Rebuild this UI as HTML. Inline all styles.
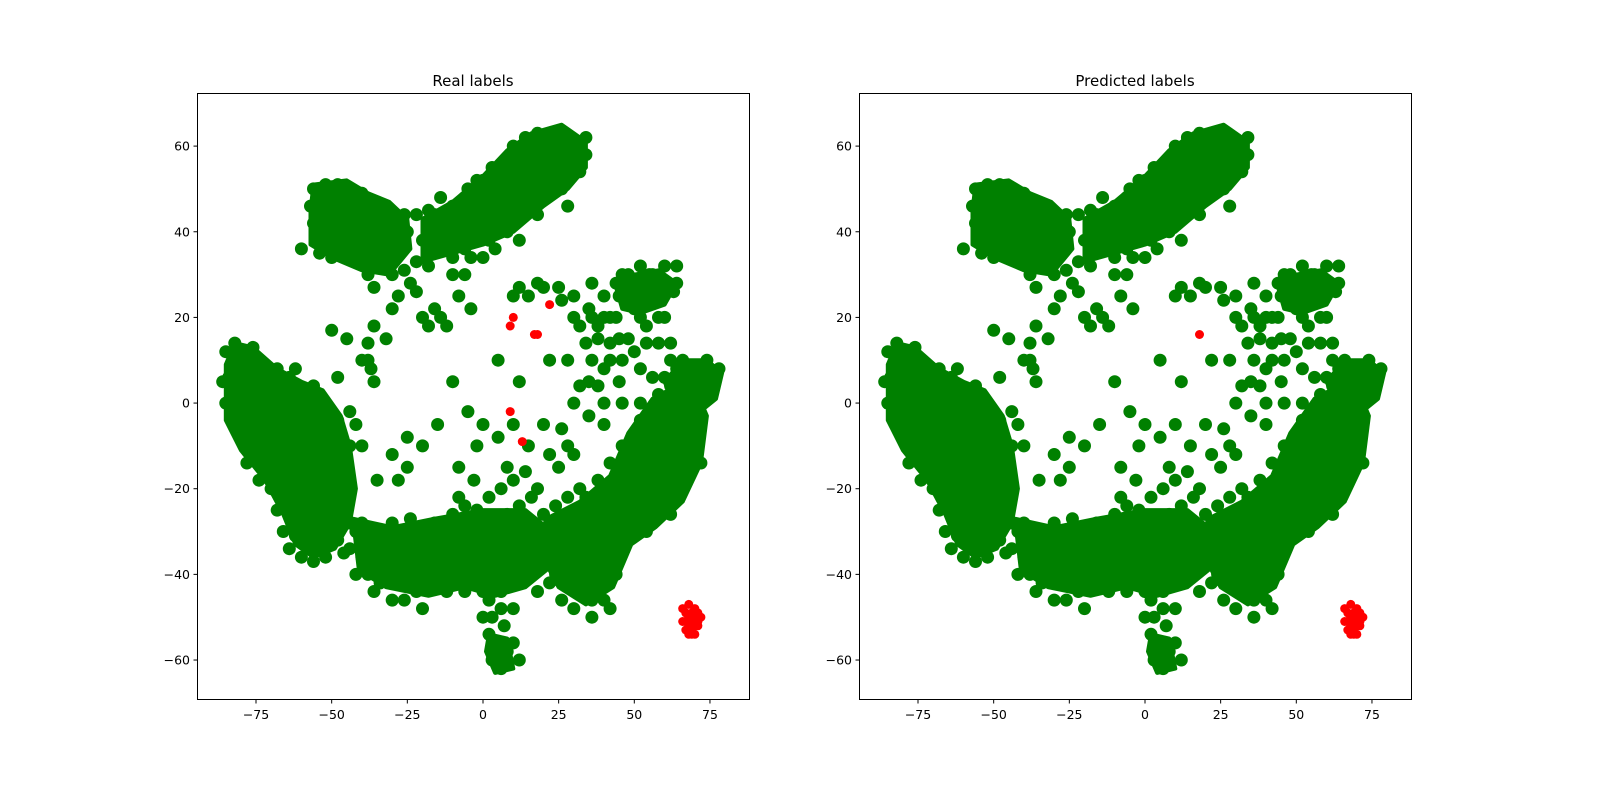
<!DOCTYPE html>
<html><head><meta charset="utf-8"><title>Real vs Predicted labels</title>
<style>
html,body{margin:0;padding:0;background:#fff;}
svg{display:block;font-family:"DejaVu Sans","Liberation Sans",sans-serif;}
</style></head>
<body>
<svg id="fig" width="1600" height="802" viewBox="0 0 1600 802"></svg>
<script>
// ---- data (t-SNE coordinates) ----
// dense cores of the green class (outlines in data coordinates)
const denseRegions = [
[[-56,51],[-45,52],[-38,49],[-31,47],[-25,43],[-24,36],[-31,30],[-40,31],[-50,34],[-57,37],[-57,45]],
[[-20,43],[-10,47],[0,53],[8,59],[16,63],[26,65],[34,61],[34,55],[28,50],[20,46],[10,40],[0,37],[-10,35],[-20,33]],
[[-85,9],[-82,14],[-76,13],[-68,8],[-60,5],[-53,3],[-47,-3],[-44,-10],[-42,-20],[-44,-28],[-49,-34],[-56,-36],[-62,-33],[-66,-26],[-72,-18],[-80,-11],[-85,-4]],
[[-43,-27],[-30,-29],[-16,-27],[0,-25],[14,-25],[21,-29],[21,-39],[14,-43],[4,-45],[-6,-43],[-18,-45],[-32,-43],[-41,-39]],
[[21,-27],[32,-23],[42,-17],[48,-7],[56,1],[64,4],[71,2],[74,-3],[72,-14],[66,-23],[57,-29],[49,-33],[43,-43],[34,-47],[25,-43],[19,-35]],
[[60,5],[66,10],[74,10],[79,7],[77,1],[70,-3],[63,0]],
[[2,-54],[8,-55],[10,-62],[4,-63],[1,-58]],
[[44,27],[50,30],[58,31],[64,28],[60,23],[52,21],[46,22]]
];
const greenPts = [
[-56,50],[-52,51],[-48,51],[-44,50],[-40,49],[-57,46],[-53,46],[-49,46],[-45,46],[-41,45],[-37,44],[-56,42],[-52,42],[-48,42],[-44,42],[-40,41],[-55,38],[-51,38],[-47,38],[-43,38],[-54,35],[-50,34],[-46,35],[-35,40],[-32,38],[-30,35],[-28,42],[-25,40],[-22,44],[-20,38],[-38,30],[-34,32],[-30,30],[-26,31],[-22,33],[-36,27],[-28,25],[-24,28],
[-18,45],[-14,48],[-12,42],[-8,44],[-5,50],[-2,47],[0,52],[3,55],[5,50],[8,56],[10,60],[12,54],[14,62],[17,58],[18,63],[20,55],[22,60],[24,63],[26,58],[28,61],[30,57],[32,60],[34,58],[22,52],[26,50],[16,50],[10,46],[6,44],[2,42],[-2,38],[-6,36],[-10,34],[-14,36],[-18,32],[0,34],[4,36],[8,40],[12,38],[18,44],
[-16,22],[-20,20],[-12,18],[-22,26],[-30,22],[-36,18],[-40,10],[-36,5],[-42,-5],[-8,25],[-4,22],[-18,18],[-14,20],[-38,14],[-37,8],[-10,30],[-6,30],
[5,10],[-5,-2],[0,-5],[5,-8],[-8,-15],[-3,-18],[2,-22],[8,-15],[10,-5],[15,-10],[20,-5],[12,5],[15,25],[20,27],[25,27],[30,25],[35,22],[40,20],[45,25],[50,28],[55,30],[60,28],[63,26],[38,15],[42,10],[35,5],[30,0],[28,-10],[25,-15],[30,-12],[40,-5],[45,5],[48,15],[52,20],[22,10],[18,-20],[-15,-5],[-20,-10],[-25,-8],[-30,-12],[-35,-18],[-28,-18],[-45,-15],[-38,10],[-45,15],[-50,17],[-32,15],[-10,5],
[10,25],[12,27],[18,28],[26,24],[36,28],[34,14],[36,10],[40,0],[26,-6],[22,-12],[14,-16],[6,-20],[-2,-10],[10,-18],[-40,-10],[-25,-15],
[-85,12],[-82,14],[-78,10],[-84,6],[-80,4],[-76,6],[-72,8],[-68,8],[-64,6],[-85,0],[-81,0],[-77,1],[-73,2],[-69,2],[-65,0],[-61,-2],[-57,-2],[-80,-5],[-76,-4],[-72,-4],[-68,-5],[-64,-6],[-60,-7],[-56,-8],[-52,-6],[-48,-4],[-78,-10],[-74,-10],[-70,-10],[-66,-11],[-62,-12],[-58,-12],[-54,-12],[-50,-10],[-72,-15],[-68,-16],[-64,-17],[-60,-17],[-56,-17],[-52,-16],[-48,-14],[-66,-21],[-62,-22],[-58,-22],[-54,-22],[-50,-20],[-64,-26],[-60,-27],[-56,-27],[-52,-26],[-62,-31],[-58,-32],[-54,-32],[-50,-33],[-46,-35],[-56,-37],[-52,-5],[-47,-10],[-44,-20],
[-42,-30],[-38,-32],[-34,-30],[-30,-33],[-26,-31],[-22,-34],[-18,-32],[-40,-36],[-36,-38],[-32,-38],[-28,-37],[-24,-39],[-20,-38],[-16,-36],[-34,-42],[-28,-42],[-22,-44],[-18,-42],[-20,-48],[-24,-27],[-12,-30],[-8,-28],[-4,-30],[-10,-35],[-6,-38],[-2,-36],[2,-34],[6,-32],[10,-30],[14,-28],[-4,-42],[0,-40],[4,-40],[8,-38],[12,-36],[2,-46],[6,-44],[10,-42],[3,-50],[7,-52],[4,-56],[8,-58],[3,-60],[6,-62],[10,-56],[12,-60],
[-2,-25],[2,-28],[-8,-22],[16,-22],[-40,-28],[-36,-34],[-30,-28],[-26,-35],[-14,-33],[-8,-32],[0,-30],[4,-36],[8,-34],[-2,-40],[6,-48],[2,-54],[14,-32],[-44,-28],[-38,-40],[-30,-40],[-16,-28],
[20,-32],[24,-30],[28,-28],[32,-26],[36,-28],[40,-30],[24,-36],[28,-34],[32,-32],[36,-34],[40,-36],[28,-40],[32,-38],[36,-40],[40,-42],[32,-44],[36,-46],[42,-48],[18,-38],[22,-42],[26,-46],[44,-24],[48,-22],[52,-20],[56,-18],[60,-16],[48,-28],[52,-26],[56,-24],[44,-18],[50,-14],[54,-12],[58,-10],[62,-10],[66,-8],[50,-8],[55,-5],[60,-4],[64,-2],[68,-2],[58,2],[62,4],[66,4],[70,2],[74,4],[72,8],[76,6],[78,8],[68,8],[70,-6],[64,-14],[60,-22],[66,-16],[62,10],[56,6],[52,0],[46,-10],[42,-14],[38,-18],[34,-22],[46,0],[52,-30],[44,-34],
[40,25],[44,28],[48,30],[52,32],[56,30],[60,26],[64,28],[58,20],[62,14],[42,20],[38,18],[45,15],[32,18],[28,10],[35,-3],[48,24],[56,24],[60,20],[44,20],
[-60,36],[-38,46],[-34,46],[-30,44],[-34,36],[-26,44],[-16,44],[-10,46],[-6,48],[-8,38],[-4,34],[-12,38],[2,38],[6,40],[14,44],[16,46],[18,52],[14,58],[26,54],[32,54],[34,62],[20,62],[28,46],[2,46],[-2,52],
[-86,5],[-83,-3],[-78,-14],[-74,-18],[-70,-20],[-68,-25],[-66,-30],[-64,-34],[-60,-36],[-52,-36],[-48,-32],[-48,-20],[-44,-10],[-44,-2],[-48,6],[-56,4],[-62,8],[-80,10],[-76,13],
[-44,-34],[-42,-40],[-36,-44],[-30,-46],[-26,-46],[-22,-40],[-14,-40],[-12,-44],[-10,-26],[-6,-24],[-6,-44],[0,-44],[4,-30],[8,-26],[12,-24],[16,-34],[20,-26],[18,-44],[14,-40],[10,-48],[0,-50],[4,-58],
[24,-24],[28,-22],[32,-20],[36,-24],[40,-26],[44,-28],[44,-40],[40,-46],[36,-50],[30,-48],[24,-40],[22,-28],[48,-10],[52,-4],[54,-8],[58,-6],[56,-2],[62,-18],[58,-26],[54,-30],[60,-12],[70,6],[64,8],[72,-14],[68,-16],[60,6],[66,10],[74,10],[62,-26],
[46,10],[50,12],[52,8],[54,14],[50,22],[46,30],[42,14],[40,8],[38,4],[32,4],[36,20],[30,20],[60,32],[64,32],[54,18],[58,14]
];
const redRealPts = [[66,-48],[68,-47],[70,-48],[66,-51],[68,-50],[70,-50],[72,-50],[67,-53],[69,-53],[71,-52],[69,-54],[67,-49],[69,-49],[71,-49],[67,-51],[69,-51],[71,-51],[68,-52],[70,-52],[68,-54],[70,-54],[10,20],[22,23],[18,16],[17,16],[9,-2],[13,-9],[9,18]];
const redPredPts = [[66,-48],[68,-47],[70,-48],[66,-51],[68,-50],[70,-50],[72,-50],[67,-53],[69,-53],[71,-52],[69,-54],[67,-49],[69,-49],[71,-49],[67,-51],[69,-51],[71,-51],[68,-52],[70,-52],[68,-54],[70,-54],[18,16]];
const xTicks = [-75,-50,-25,0,25,50,75];
const yTicks = [-60,-40,-20,0,20,40,60];
const titles = ["Real labels","Predicted labels"];

// ---- layout ----
const NS="http://www.w3.org/2000/svg";
const svg=document.getElementById('fig');
const panels=[{left:197,names:'real'},{left:859,names:'predicted'}];
const W=552, TOP=93, H=606, XMIN=-94.5, XMAX=87.9, YMIN=-69.1, YMAX=72.4;
function mk(tag,attrs,parent){const e=document.createElementNS(NS,tag);for(const k in attrs)e.setAttribute(k,attrs[k]);(parent||svg).appendChild(e);return e;}

panels.forEach((p,pi)=>{
  const sx=v=>p.left+(v-XMIN)/(XMAX-XMIN)*W;
  const sy=v=>TOP+(YMAX-v)/(YMAX-YMIN)*H;
  const g=mk('g',{});
  
  
  const pts=mk('g',{},g);
  
  
  denseRegions.forEach(poly=>{
    const d=poly.map(q=>sx(q[0]).toFixed(1)+','+sy(q[1]).toFixed(1)).join(' ');
    const pg=mk('polygon',{points:d,fill:'#008000',stroke:'#008000','stroke-width':4,'stroke-linejoin':'round'},pts);
    
    
  });
  greenPts.forEach(d=>{
    const c=mk('circle',{cx:sx(d[0]).toFixed(1),cy:sy(d[1]).toFixed(1),r:6.5,fill:'#008000'},pts);
    
    
  });
  (pi===0?redRealPts:redPredPts).forEach(d=>{
    const c=mk('circle',{cx:sx(d[0]).toFixed(1),cy:sy(d[1]).toFixed(1),r:4.5,fill:'#ff0000'},pts);
    
    
  });
  const fr=mk('rect',{x:p.left+0.5,y:TOP+0.5,width:W,height:H,fill:'none',stroke:'#000','stroke-width':1},g);
  
  
  xTicks.forEach(t=>{
    const x=sx(t);
    mk('line',{x1:x,x2:x,y1:TOP+H+0.5,y2:TOP+H+4.5,stroke:'#000'},g);
    const tx=mk('text',{x:x,y:TOP+H+20,'text-anchor':'middle','font-size':12.5,fill:'#000'},g);
    tx.textContent=(t<0?'\u2212'+(-t):t);
    
    
  });
  yTicks.forEach(t=>{
    const y=sy(t);
    mk('line',{x1:p.left+0.5,x2:p.left-3.5,y1:y,y2:y,stroke:'#000'},g);
    const tx=mk('text',{x:p.left-7,y:y+4.5,'text-anchor':'end','font-size':12.5,fill:'#000'},g);
    tx.textContent=(t<0?'\u2212'+(-t):t);
    
    
  });
  const ti=mk('text',{x:p.left+W/2,y:86,'text-anchor':'middle','font-size':15,fill:'#000'},g);
  ti.textContent=titles[pi];
  
  
});
</script>
</body></html>
